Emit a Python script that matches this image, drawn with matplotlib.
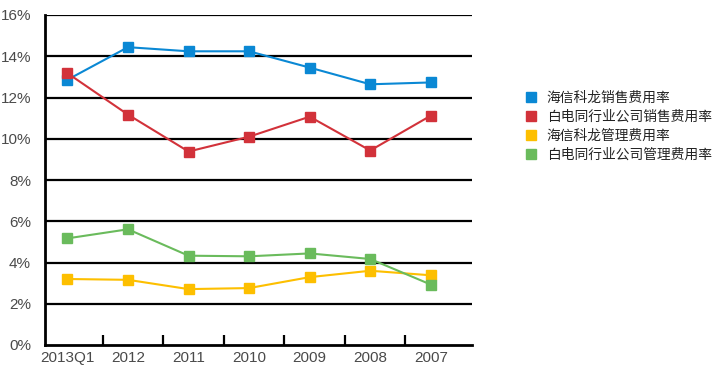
import matplotlib
matplotlib.use("Agg")
import matplotlib.pyplot as plt
from matplotlib.ticker import FuncFormatter, FixedLocator

plt.rcParams['font.family'] = ['Noto Sans CJK SC', 'DejaVu Sans']

categories = ["2013Q1", "2012", "2011", "2010", "2009", "2008", "2007"]
hisense_sales = [12.86, 14.44, 14.24, 14.24, 13.45, 12.64, 12.73]
industry_sales = [13.18, 11.17, 9.38, 10.10, 11.07, 9.43, 11.12]
hisense_admin = [3.20, 3.16, 2.71, 2.76, 3.29, 3.60, 3.38]
industry_admin = [5.17, 5.61, 4.33, 4.30, 4.44, 4.17, 2.93]
series_names = ["海信科龙销售费用率", "白电同行业公司销售费用率", "海信科龙管理费用率", "白电同行业公司管理费用率"]
colors = ["#0a88d4", "#d2323a", "#fdbf00", "#6abb5c"]
yticks = [0, 2, 4, 6, 8, 10, 12, 14, 16]

fig = plt.figure(figsize=(7.15, 3.77), dpi=100)
ax = fig.add_axes([45/715, 1-345/377, (472-45)/715, (345-15)/377])

x = list(range(len(categories)))
for vals, name, c in zip([hisense_sales, industry_sales, hisense_admin, industry_admin], series_names, colors):
    ax.plot(x, vals, color=c, lw=1.5, marker='s', ms=6.5, mec=c, mfc=c, label=name, zorder=3)

ax.set_ylim(0, 16)
ax.set_xlim(-0.37, 6.68)
ax.set_yticks(yticks)
ax.yaxis.set_major_formatter(FuncFormatter(lambda v, p: f"{int(v)}%"))
for v in yticks[1:]:
    ax.axhline(v, color='black', lw=1.6, zorder=1)

ax.set_xticks(x)
ax.set_xticklabels(categories)
ax.xaxis.set_minor_locator(FixedLocator([i + 0.58 for i in range(len(categories) - 1)]))
ax.tick_params(axis='x', which='major', length=0, pad=4, labelsize=11, labelcolor='#4a4a4a')
ax.tick_params(axis='x', which='minor', direction='in', length=7, width=1.6, color='black')
ax.tick_params(axis='y', length=0, pad=10, labelsize=11, labelcolor='#4a4a4a')
for lab in ax.get_xticklabels() + ax.get_yticklabels():
    lab.set_family('Liberation Sans')

for s in ['top', 'right']:
    ax.spines[s].set_visible(False)
ax.spines['left'].set_linewidth(2)
ax.spines['bottom'].set_linewidth(2)

handles = [plt.Line2D([], [], ls='none', marker='s', ms=6.5, color=c) for c in colors]
fig.legend(handles, series_names, loc='upper left', bbox_to_anchor=(520/715, 1-85/377),
           frameon=False, fontsize=9.9, handlelength=0.8, handletextpad=0.75,
           labelspacing=0.38, borderaxespad=0, labelcolor='#222222')

fig.savefig("out.png", dpi=100)
